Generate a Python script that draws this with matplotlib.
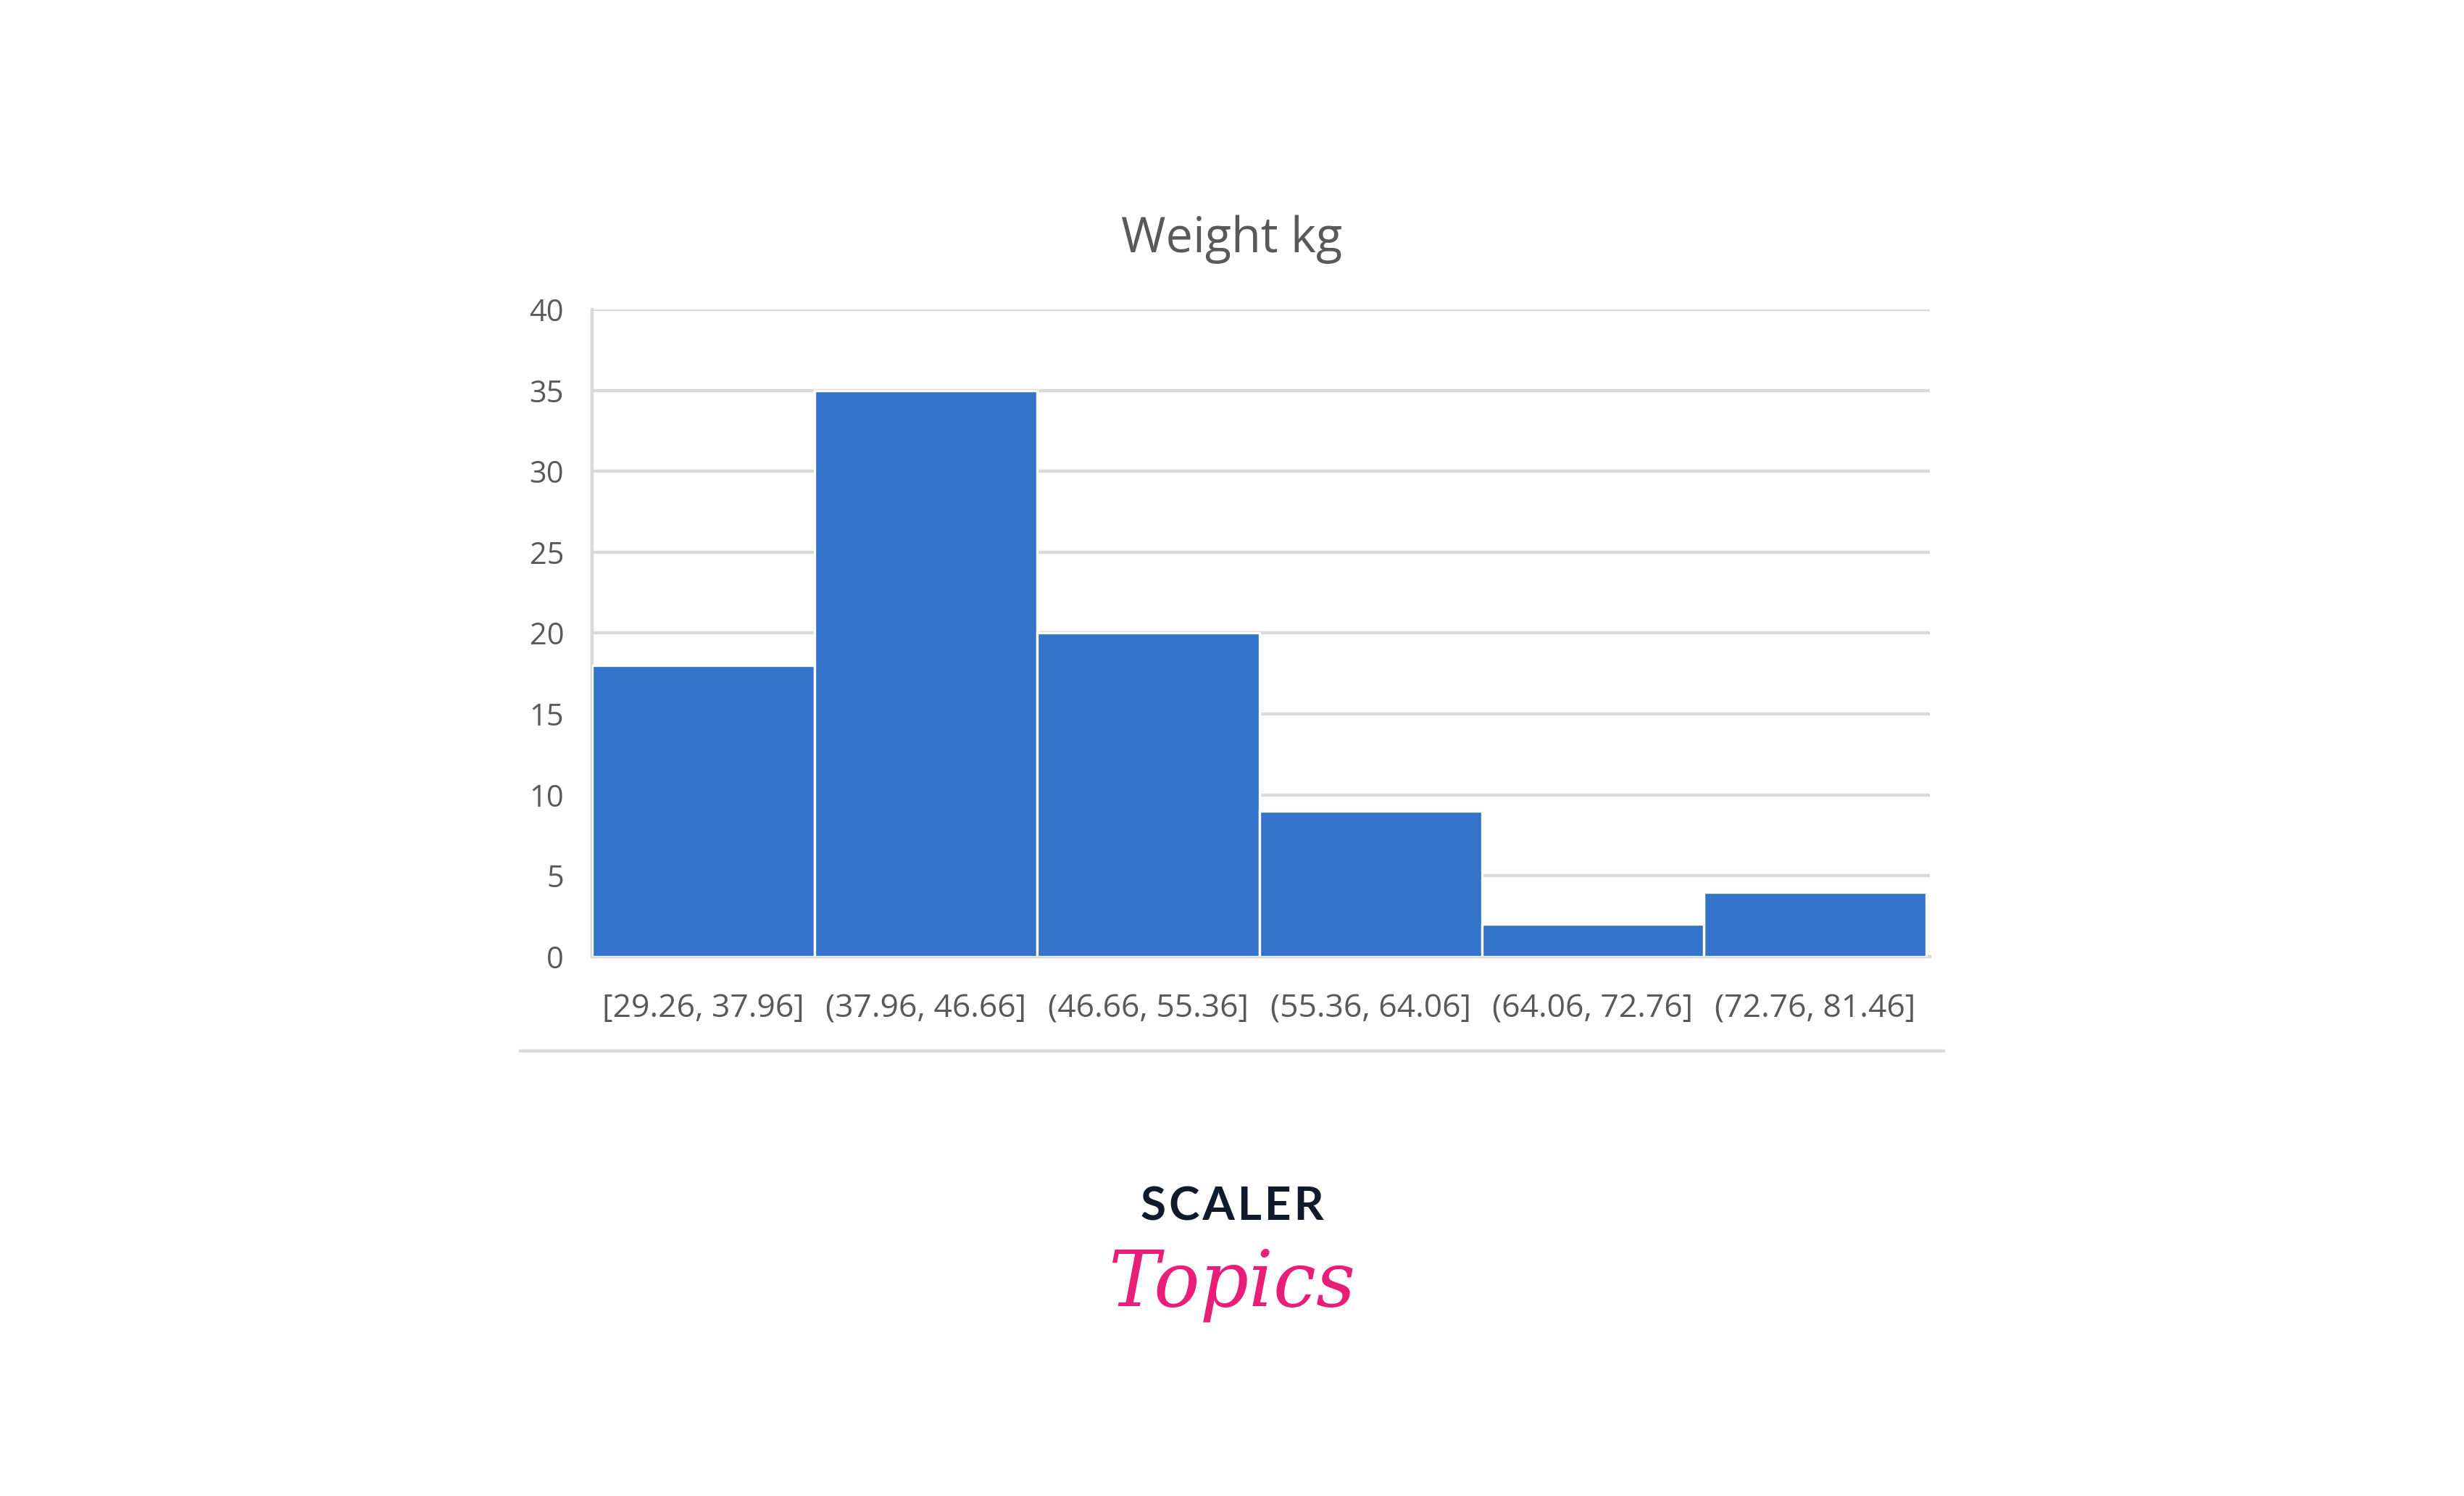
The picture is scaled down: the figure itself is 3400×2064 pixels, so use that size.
import numpy as np
import matplotlib.pyplot as plt
from matplotlib.lines import Line2D

# Data
bins = ["[29.26, 37.96]", "(37.96, 46.66]", "(46.66, 55.36]",
        "(55.36, 64.06]", "(64.06, 72.76]", "(72.76, 81.46]"]
counts = [18, 35, 20, 9, 2, 4]
y_ticks = [0, 5, 10, 15, 20, 25, 30, 35, 40]

BAR = '#3373c9'
TXT = '#595959'
GRID = '#d9d9d9'

plt.rcParams['font.family'] = ['Open Sans', 'DejaVu Sans']

fig = plt.figure(figsize=(17, 10.32), dpi=200)
ax = fig.add_axes([0.2403, 0.3605, 0.7832 - 0.2403, 0.7931 - 0.3605])

x = np.arange(len(counts))
ax.bar(x, counts, width=1.0, align='edge', color=BAR, edgecolor='white', linewidth=1.2, zorder=3)

ax.set_xlim(0, len(counts) + 0.015)
ax.set_ylim(0, 40)
ax.set_yticks(y_ticks)
ax.set_yticklabels([str(v) for v in y_ticks])
ax.set_xticks(x + 0.5)
ax.set_xticklabels(bins)
ax.tick_params(axis='both', length=0, colors=TXT)
ax.tick_params(axis='y', pad=14, labelsize=15)
ax.tick_params(axis='x', pad=18, labelsize=16)

ax.yaxis.grid(True, color=GRID, linewidth=1.6, zorder=0)
for s in ['top', 'right']:
    ax.spines[s].set_visible(False)
ax.spines['left'].set_color(GRID)
ax.spines['left'].set_linewidth(1.6)
ax.spines['bottom'].set_color(GRID)
ax.spines['bottom'].set_linewidth(1.6)

# Title
fig.text(0.5, 1 - 330 / 2064, "Weight kg", ha='center', va='center', fontsize=24, color=TXT)

# Chart area bottom border
fig.add_artist(Line2D([718 / 3400, 2682 / 3400], [1 - 1450 / 2064] * 2,
                      color=GRID, linewidth=1.6, transform=fig.transFigure))

# Logo
fig.text(0.5, 1 - 1665 / 2064, "S\u200aC\u200aA\u200aL\u200aE\u200aR", ha='center', va='center',
         fontsize=23, fontweight='bold', color='#0f1b2d', family=['Lato', 'DejaVu Sans'])
fig.text(0.5, 1 - 1772 / 2064, "Topics", ha='center', va='center', fontsize=38,
         style='italic', color='#e91e78', family=['DejaVu Serif'])

fig.savefig('out.png', dpi=200, facecolor='white')
